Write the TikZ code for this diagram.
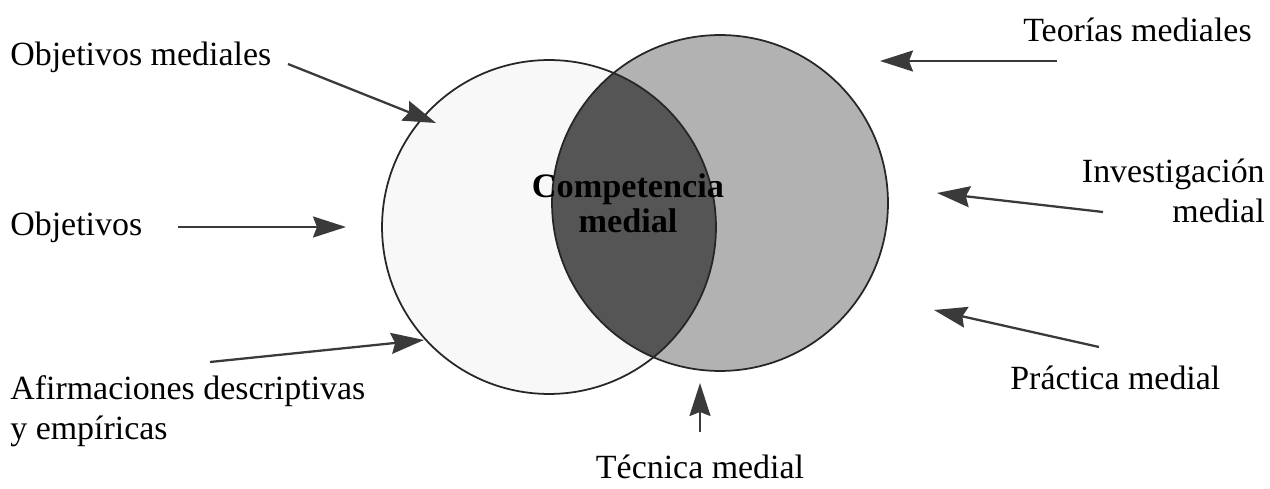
\documentclass[tikz,border=0pt]{standalone}
\usepackage{fontspec}
\setmainfont{Liberation Serif}
\usetikzlibrary{arrows.meta}
\definecolor{lightgr}{HTML}{B2B2B2}
\definecolor{lensgr}{HTML}{555555}
\definecolor{leftfill}{HTML}{F8F8F8}
\definecolor{arrgr}{HTML}{3A3A3A}
\tikzset{
  lbl/.style={font=\fontsize{19.3}{23}\selectfont, inner sep=0pt, text=black},
  ptr/.style={line width=1.3pt, -{Stealth[length=0.66cm,width=0.42cm,inset=0.08cm]}, arrgr},
}
\begin{document}
\begin{tikzpicture}[x=0.02cm,y=-0.02cm]
\useasboundingbox (0,0) rectangle (1270,489);
% circles
\coordinate (cl) at (549,227);
\coordinate (cr) at (720,203);
\fill[lightgr] (cr) circle[radius=3.36cm];
\fill[leftfill] (cl) circle[radius=3.34cm];
\begin{scope}
  \clip (cl) circle[radius=3.34cm];
  \fill[lensgr] (cr) circle[radius=3.36cm];
\end{scope}
\draw[line width=1pt, black!85] (cl) circle[radius=3.34cm];
\draw[line width=1pt, black!85] (cr) circle[radius=3.36cm];
\node[font=\fontsize{19.5}{22}\selectfont\bfseries, align=center, inner sep=0pt] (cm) at (628,203) {Competencia\\[-2pt]medial};
% labels
\node[lbl, anchor=west] (objm) at (10,57) {Objetivos mediales};
\node[lbl, anchor=west] (obj) at (10,227) {Objetivos};
\node[lbl, anchor=north west, align=left] (afi) at (10,375) {Afirmaciones descriptivas\\y empíricas};
\node[lbl, anchor=east] (teo) at (1252,30) {Teorías mediales};
\node[lbl, anchor=east, align=right] (inv) at (1265,191) {Investigación\\medial};
\node[lbl, anchor=west] (pra) at (1010,378) {Práctica medial};
\node[lbl] (tec) at (700,467) {Técnica medial};
% arrow ends
\coordinate (s1) at (288,64);   \coordinate (t1) at (436,123);
\coordinate (s2) at (178,227);  \coordinate (t2) at (346,227);
\coordinate (s3) at (210,362);  \coordinate (t3) at (424,340);
\coordinate (s4) at (1057,61);  \coordinate (t4) at (880,61);
\coordinate (s5) at (1103,212); \coordinate (t5) at (937,193);
\coordinate (s6) at (1099,347); \coordinate (t6) at (934,310);
\coordinate (s7) at (700,432);  \coordinate (t7) at (700,383);
\draw[ptr] (s1) -- (t1);
\draw[ptr] (s2) -- (t2);
\draw[ptr] (s3) -- (t3);
\draw[ptr] (s4) -- (t4);
\draw[ptr] (s5) -- (t5);
\draw[ptr] (s6) -- (t6);
\draw[ptr] (s7) -- (t7);
\end{tikzpicture}
\end{document}
